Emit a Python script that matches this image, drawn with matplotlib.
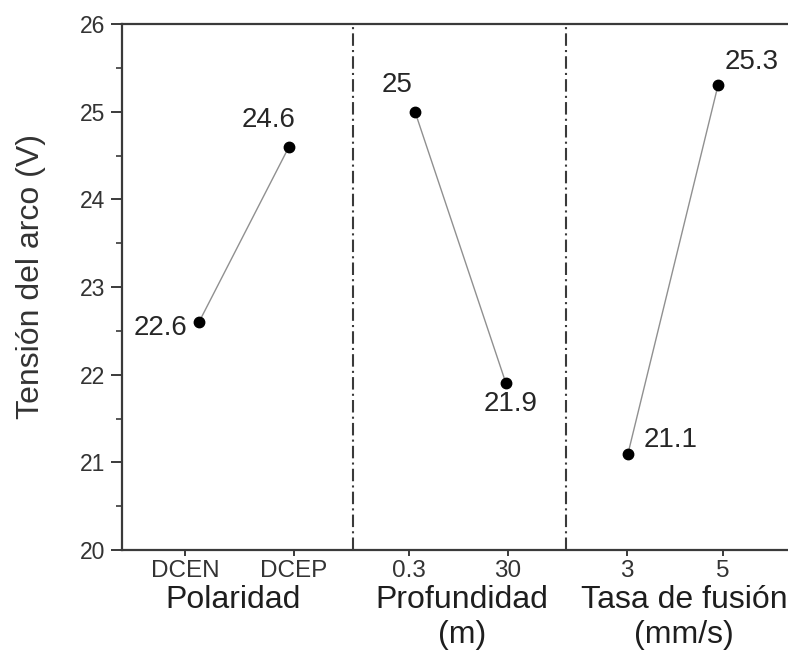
import matplotlib
matplotlib.use("Agg")
import matplotlib.pyplot as plt
from matplotlib.ticker import MultipleLocator

plt.rcParams['font.family'] = ['Liberation Sans', 'DejaVu Sans']

# Factor levels and measured arc voltage
groups = ["Polaridad", "Profundidad\n(m)", "Tasa de fusión\n(mm/s)"]
levels = ["DCEN", "DCEP", "0.3", "30", "3", "5"]
voltage = [22.6, 24.6, 25.0, 21.9, 21.1, 25.3]
value_labels = ["22.6", "24.6", "25", "21.9", "21.1", "25.3"]
y_ticks = [20, 21, 22, 23, 24, 25, 26]

# Layout on the horizontal axis
tick_x = [0.63, 1.72, 2.87, 3.86, 5.05, 6.01]
point_x = [0.77, 1.67, 2.93, 3.84, 5.06, 5.96]
divider_x = [2.31, 4.44]
group_x = [1.11, 3.40, 5.62]
label_offsets = [(-28, -4), (-15, 19), (-13, 19), (3, -15), (31, 10), (24, 17)]

W, H = 788, 654
fig = plt.figure(figsize=(W / 100, H / 100), dpi=100)
left, right, top, bottom = 122, 800, 24, 550
ax = fig.add_axes([left / W, 1 - bottom / H, (right - left) / W, (bottom - top) / H])

spine_c = "#3a3a3a"
for side in ["left", "top", "bottom"]:
    ax.spines[side].set_color(spine_c)
    ax.spines[side].set_linewidth(1.6)
ax.spines["right"].set_visible(False)

ax.set_xlim(0, (right - left) / 100)
ax.set_ylim(20, 26)
ax.set_yticks(y_ticks)
ax.yaxis.set_minor_locator(MultipleLocator(0.5))
ax.set_xticks(tick_x)
ax.set_xticklabels(levels)

ax.tick_params(axis="y", which="major", direction="out", length=8, width=1.4,
               color=spine_c, labelsize=16.5, labelcolor="#333333", pad=4)
ax.tick_params(axis="y", which="minor", direction="out", length=4, width=1.2, color=spine_c)
ax.tick_params(axis="x", which="major", direction="out", length=4, width=1.4,
               color=spine_c, labelsize=17.5, labelcolor="#333333", pad=3)

# Group separators
for xv in divider_x:
    ax.axvline(xv, color=spine_c, lw=1.5, linestyle=(0, (6, 2, 1, 2)))

# Each factor: two levels joined by a thin line
for i in range(0, len(voltage), 2):
    ax.plot(point_x[i:i + 2], voltage[i:i + 2], color="#909090", lw=1.0, zorder=2)
ax.plot(point_x, voltage, linestyle="none", marker="o", ms=7.5, color="black", zorder=3)

for xv, yv, txt, off in zip(point_x, voltage, value_labels, label_offsets):
    ax.annotate(txt, (xv, yv), xytext=off, textcoords="offset points",
                ha="center", va="center", fontsize=20, color="#262626")

# Factor names under the level labels
tr = ax.get_xaxis_transform()
for xv, name in zip(group_x, groups):
    ax.text(xv, -0.066, name, transform=tr, ha="center", va="top",
            fontsize=23, color="#1e1e1e", linespacing=1.25, clip_on=False)

ax.set_ylabel("Tensión del arco (V)", fontsize=23, color="#333333")
ax.yaxis.set_label_coords(-0.112, 0.52)

fig.savefig("out.png", dpi=100)
